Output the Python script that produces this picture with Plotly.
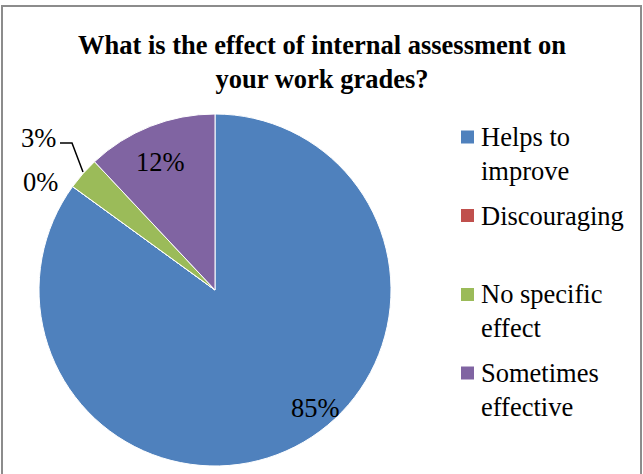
import plotly.graph_objects as go

categories = ["Helps to<br>improve", "Discouraging", "No specific<br>effect", "Sometimes<br>effective"]
values = [85, 0, 3, 12]
colors = ["#4F81BD", "#C0504D", "#9BBB59", "#8064A2"]
title_text = "<b>What is the effect of internal assessment on<br>your work grades?</b>"

W, H = 643, 474
FONT = "Liberation Serif"
FS = 26.5

fig = go.Figure()
fig.add_trace(go.Pie(
    labels=categories,
    values=values,
    marker=dict(colors=colors, line=dict(color="white", width=1)),
    sort=False,
    direction="clockwise",
    rotation=0,
    textinfo="none",
    hoverinfo="label+percent",
    domain=dict(x=[39 / W, 391 / W], y=[1 - 466 / H, 1 - 114 / H]),
    showlegend=False,
))

# data labels (text derived from the values)
label_pos = [(315, 408), (40, 182), (38, 138), (160, 162)]
for v, (px, py) in zip(values, label_pos):
    fig.add_annotation(
        x=px / W, y=1 - py / H, xref="paper", yref="paper",
        text=f"{v}%", showarrow=False,
        font=dict(family=FONT, size=FS, color="black"),
        xanchor="center", yanchor="middle",
    )

# leader line for the 3% label
fig.add_shape(
    type="path",
    path=f"M {60 / W} {1 - 143 / H} L {72 / W} {1 - 143 / H} L {83 / W} {1 - 172 / H}",
    xref="paper", yref="paper",
    line=dict(color="black", width=1.5),
)

# legend (Excel-style layout): marker centre y and text block centre y
legend_marker_y = [137, 215.5, 294.5, 373]
legend_text_y = [153.5, 215.5, 310.5, 389.5]
for cat, col, my, ty in zip(categories, colors, legend_marker_y, legend_text_y):
    fig.add_shape(
        type="rect", xref="paper", yref="paper",
        x0=461 / W, x1=474 / W, y0=1 - (my + 6.5) / H, y1=1 - (my - 6.5) / H,
        fillcolor=col, line=dict(width=0),
    )
    fig.add_annotation(
        x=479 / W, y=1 - ty / H, xref="paper", yref="paper",
        text=cat, showarrow=False, align="left",
        font=dict(family=FONT, size=FS, color="black"),
        xanchor="left", yanchor="middle",
    )

# chart area border
fig.add_shape(
    type="rect", xref="paper", yref="paper",
    x0=2 / W, x1=641 / W, y0=-0.05, y1=1 - 6 / H,
    line=dict(color="#8C8C8C", width=2),
)

fig.add_annotation(
    x=0.5, y=1 - 61.5 / H, xref="paper", yref="paper",
    text=title_text, showarrow=False, align="center",
    font=dict(family=FONT, size=FS, color="black"),
    xanchor="center", yanchor="middle",
)

fig.update_layout(
    width=W, height=H,
    margin=dict(l=0, r=0, t=0, b=0),
    paper_bgcolor="white",
    plot_bgcolor="white",
)

fig.write_html("out.html", config={"displayModeBar": False},
               post_script="document.body.style.margin='0';")
